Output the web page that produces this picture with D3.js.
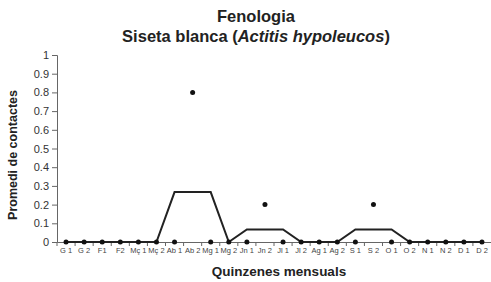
<!DOCTYPE html>
<html>
<head>
<meta charset="utf-8">
<script src="https://cdn.jsdelivr.net/npm/d3@7.9.0/dist/d3.min.js"></script>
<style>
  body { margin: 0; background: #fff; }
  svg { display: block; font-family: "Liberation Sans", Arial, sans-serif; }
</style>
</head>
<body>
<svg id="chart" width="491" height="282"></svg>
<script>
const categories = ["G 1", "G 2", "F1", "F2", "Mç 1", "Mç 2", "Ab 1", "Ab 2", "Mg 1", "Mg 2", "Jn 1", "Jn 2",
  "Jl 1", "Jl 2", "Ag 1", "Ag 2", "S 1", "S 2", "O 1", "O 2", "N 1", "N 2", "D 1", "D 2"];
const contactes = [0, 0, 0, 0, 0, 0, 0, 0.8, 0, 0, 0, 0.2, 0, 0, 0, 0, 0, 0.2, 0, 0, 0, 0, 0, 0];
const tendencia = [0, 0, 0, 0, 0, 0, 0.267, 0.267, 0.267, 0, 0.067, 0.067, 0.067, 0, 0, 0, 0.067, 0.067, 0.067, 0, 0, 0, 0, 0];
const yTicks = [0, 0.1, 0.2, 0.3, 0.4, 0.5, 0.6, 0.7, 0.8, 0.9, 1];

const svg = d3.select("#chart");
const plotLeft = 57, plotRight = 491, plotTop = 55, plotBottom = 242;

const x = d3.scaleBand().domain(categories).range([plotLeft, plotRight]);
const y = d3.scaleLinear().domain([0, 1]).range([plotBottom, plotTop]);

// titol
svg.append("text")
  .attr("x", 256).attr("y", 22)
  .attr("text-anchor", "middle")
  .attr("font-size", 16.5).attr("font-weight", "bold").attr("fill", "#222")
  .text("Fenologia");

const sub = svg.append("text")
  .attr("x", 256).attr("y", 42)
  .attr("text-anchor", "middle")
  .attr("font-size", 16.5).attr("font-weight", "bold").attr("fill", "#222");
sub.append("tspan").text("Siseta blanca (");
sub.append("tspan").attr("font-style", "italic").text("Actitis hypoleucos");
sub.append("tspan").text(")");

// eix y
const yAxis = svg.append("g")
  .attr("transform", `translate(${plotLeft},0)`)
  .call(d3.axisLeft(y).tickValues(yTicks).tickSize(5).tickPadding(3).tickFormat(d3.format("")));
yAxis.selectAll("text").attr("font-size", 11).attr("fill", "#333");

// eix x
const xAxis = svg.append("g")
  .attr("transform", `translate(0,${plotBottom})`)
  .call(d3.axisBottom(x).tickSize(0).tickPadding(6));
xAxis.selectAll("text").attr("font-size", 7.5).attr("fill", "#444");

// marques entre quinzenes
svg.append("g").selectAll("line")
  .data(categories)
  .join("line")
  .attr("x1", (d) => x(d)).attr("x2", (d) => x(d))
  .attr("y1", plotBottom).attr("y2", plotBottom + 4)
  .attr("stroke", "#666");

svg.selectAll(".domain").attr("stroke", "#666");
svg.selectAll(".tick line").attr("stroke", "#666");

// línia de tendencia
const line = d3.line()
  .x((d, i) => x(categories[i]) + x.bandwidth() / 2)
  .y((d) => y(d));

svg.append("path")
  .datum(tendencia)
  .attr("d", line)
  .attr("fill", "none")
  .attr("stroke", "#222")
  .attr("stroke-width", 2);

// punts
svg.append("g").selectAll("circle")
  .data(contactes)
  .join("circle")
  .attr("cx", (d, i) => x(categories[i]) + x.bandwidth() / 2)
  .attr("cy", (d) => y(d))
  .attr("r", 2.5)
  .attr("fill", "#111");

// titols eixos
svg.append("text")
  .attr("transform", "translate(17,155) rotate(-90)")
  .attr("text-anchor", "middle")
  .attr("font-size", 12.5).attr("font-weight", "bold").attr("fill", "#222")
  .text("Promedi de contactes");

svg.append("text")
  .attr("x", 279).attr("y", 276)
  .attr("text-anchor", "middle")
  .attr("font-size", 13.5).attr("font-weight", "bold").attr("fill", "#222")
  .text("Quinzenes mensuals");
</script>
</body>
</html>
